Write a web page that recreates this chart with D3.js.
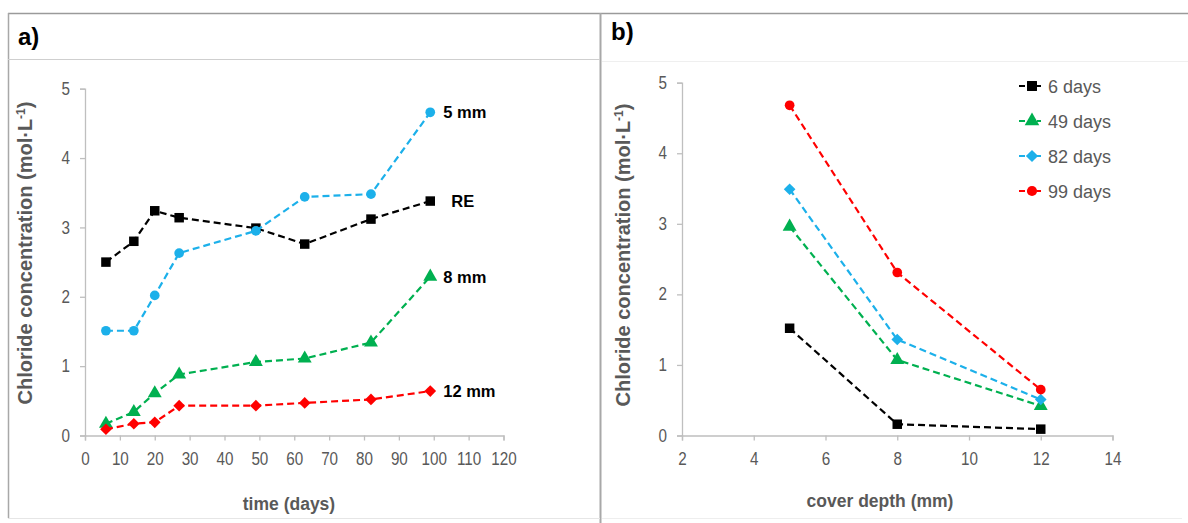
<!DOCTYPE html>
<html>
<head>
<meta charset="utf-8">
<script src="https://cdn.jsdelivr.net/npm/d3@7"></script>
<style>
  html, body { margin: 0; padding: 0; background: #fff; }
  svg { display: block; font-family: "Liberation Sans", Arial, Helvetica, sans-serif; }
</style>
</head>
<body>
<svg id="chart" width="1188" height="523"></svg>
<script>
// Panel a: chloride concentration over time at each cover depth
const days = [6, 14, 20, 27, 49, 63, 82, 99];
const conc5mm = [1.51, 1.51, 2.02, 2.63, 2.95, 3.44, 3.48, 4.66];
const concRE = [2.50, 2.80, 3.24, 3.14, 2.99, 2.76, 3.12, 3.38];
const conc8mm = [0.17, 0.34, 0.61, 0.88, 1.06, 1.11, 1.34, 2.29];
const conc12mm = [0.09, 0.17, 0.19, 0.43, 0.43, 0.47, 0.52, 0.64];
const timeTicks = [0, 10, 20, 30, 40, 50, 60, 70, 80, 90, 100, 110, 120];
const concTicks = [0, 1, 2, 3, 4, 5];

// Panel b: chloride profiles by cover depth for selected exposure times
const depths = [5, 8, 12];
const profile6d = [1.52, 0.16, 0.09];
const profile49d = [2.96, 1.07, 0.42];
const profile82d = [3.49, 1.36, 0.51];
const profile99d = [4.68, 2.31, 0.65];
const depthTicks = [2, 4, 6, 8, 10, 12, 14];

const BLACK = "#000000", GREEN = "#00b050", BLUE = "#1cb0ea", RED = "#ff0000";
const AXIS = "#bfbfbf", TEXT = "#595959";

const svg = d3.select("#chart");

// Frames around the two panels
const frame = svg.append("g");
frame.append("line").attr("x1", 8).attr("x2", 1188).attr("y1", 13.5).attr("y2", 13.5).attr("stroke", "#9a9a9a").attr("stroke-width", 1.5);
frame.append("line").attr("x1", 8.5).attr("x2", 8.5).attr("y1", 13).attr("y2", 518).attr("stroke", "#a8a8a8").attr("stroke-width", 1.5);
frame.append("line").attr("x1", 600.5).attr("x2", 600.5).attr("y1", 13).attr("y2", 523).attr("stroke", "#a8a8a8").attr("stroke-width", 2);
frame.append("line").attr("x1", 8).attr("x2", 600).attr("y1", 59.5).attr("y2", 59.5).attr("stroke", "#cfcfcf");
frame.append("line").attr("x1", 602).attr("x2", 1188).attr("y1", 61.5).attr("y2", 61.5).attr("stroke", "#efefef");
frame.append("line").attr("x1", 8).attr("x2", 600).attr("y1", 518.5).attr("y2", 518.5).attr("stroke", "#e6e6e6");
frame.append("line").attr("x1", 602).attr("x2", 1182).attr("y1", 518.5).attr("y2", 518.5).attr("stroke", "#eeeeee");

svg.append("text").attr("x", 18).attr("y", 45).attr("font-size", 24).attr("font-weight", "bold").text("a)");
svg.append("text").attr("x", 611).attr("y", 40).attr("font-size", 24).attr("font-weight", "bold").text("b)");

// Marker shapes; the diamond is a square turned 45 degrees
const markers = {
  square: { type: d3.symbolSquare, size: 90, rotate: 0 },
  circle: { type: d3.symbolCircle, size: 74, rotate: 0 },
  triangle: { type: d3.symbolTriangle, size: 84, rotate: 0 },
  diamond: { type: d3.symbolSquare, size: 68, rotate: 45 }
};
function markerPath(shape, scale = 1) {
  const m = markers[shape];
  return d3.symbol().type(m.type).size(m.size * scale)();
}

// Tick labels use a condensed face: squeeze the regular glyphs horizontally
function condense(selection, factor) {
  selection.each(function () {
    const w = this.getComputedTextLength();
    d3.select(this).attr("textLength", w * factor).attr("lengthAdjust", "spacingAndGlyphs");
  });
}

function drawPanel(cfg) {
  const g = svg.append("g");
  const x = d3.scaleLinear().domain(cfg.xDomain).range(cfg.xRange);
  const y = d3.scaleLinear().domain([0, 5]).range(cfg.yRange);

  const yAxis = g.append("g").attr("transform", `translate(${cfg.xRange[0]},0)`)
    .call(d3.axisLeft(y).tickValues(concTicks).tickFormat(d3.format("d")).tickSize(5).tickPadding(10));
  const xAxis = g.append("g").attr("transform", `translate(0,${cfg.yRange[0]})`)
    .call(d3.axisBottom(x).tickValues(cfg.xTicks).tickFormat(d3.format("d")).tickSize(5).tickPadding(12));
  [xAxis, yAxis].forEach(a => {
    a.selectAll("path, line").attr("stroke", AXIS).attr("stroke-width", 1.3);
    a.selectAll("text").attr("fill", TEXT).attr("font-size", 17.5).call(condense, 0.87);
  });

  g.append("text")
    .attr("transform", `translate(${cfg.yTitleX},${cfg.yTitleY}) rotate(-90)`)
    .attr("text-anchor", "middle").attr("font-size", 20).attr("font-weight", "bold").attr("fill", TEXT)
    .html('Chloride concentration (mol·L<tspan dy="-7" font-size="12">-1</tspan><tspan dy="7">)</tspan>');
  g.append("text")
    .attr("x", cfg.xTitleX).attr("y", cfg.xTitleY)
    .attr("text-anchor", "middle").attr("font-size", 17.5).attr("font-weight", "bold").attr("fill", TEXT)
    .text(cfg.xTitle);

  const line = d3.line().x(d => x(d[0])).y(d => y(d[1]));
  cfg.series.forEach(s => {
    const pts = cfg.xValues.map((v, i) => [v, s.values[i]]);
    g.append("path").datum(pts).attr("d", line)
      .attr("fill", "none").attr("stroke", s.color).attr("stroke-width", 2.2)
      .attr("stroke-dasharray", "7,4");
    g.selectAll(null).data(pts).enter().append("path")
      .attr("d", markerPath(s.shape))
      .attr("transform", d => `translate(${x(d[0])},${y(d[1])}) rotate(${markers[s.shape].rotate})`)
      .attr("fill", s.color);
    if (s.label) {
      const last = pts[pts.length - 1];
      g.append("text").attr("x", x(last[0]) + s.dx).attr("y", y(last[1]) + 6)
        .attr("font-size", 16.5).attr("font-weight", "bold").attr("fill", "#000").text(s.label);
    }
  });
  return { g, x, y };
}

drawPanel({
  xDomain: [0, 120], xRange: [85, 503.5], yRange: [435.5, 88.7],
  xTicks: timeTicks, xValues: days, xTitle: "time (days)", xTitleX: 289, xTitleY: 510,
  yTitleX: 32, yTitleY: 253,
  series: [
    { values: concRE, color: BLACK, shape: "square", label: "RE", dx: 21 },
    { values: conc5mm, color: BLUE, shape: "circle", label: "5 mm", dx: 13 },
    { values: conc8mm, color: GREEN, shape: "triangle", label: "8 mm", dx: 13 },
    { values: conc12mm, color: RED, shape: "diamond", label: "12 mm", dx: 13 }
  ]
});

drawPanel({
  xDomain: [2, 14], xRange: [682, 1112.5], yRange: [435.5, 82.7],
  xTicks: depthTicks, xValues: depths, xTitle: "cover depth (mm)", xTitleX: 880, xTitleY: 507,
  yTitleX: 630, yTitleY: 255,
  series: [
    { values: profile6d, color: BLACK, shape: "square" },
    { values: profile49d, color: GREEN, shape: "triangle" },
    { values: profile82d, color: BLUE, shape: "diamond" },
    { values: profile99d, color: RED, shape: "circle" }
  ]
});

// Legend for panel b
const legendItems = [
  { name: "6 days", color: BLACK, shape: "square" },
  { name: "49 days", color: GREEN, shape: "triangle" },
  { name: "82 days", color: BLUE, shape: "diamond" },
  { name: "99 days", color: RED, shape: "circle" }
];
const legend = svg.append("g").attr("transform", "translate(1019,86)");
legendItems.forEach((d, i) => {
  const row = legend.append("g").attr("transform", `translate(0,${i * 35})`);
  row.append("line").attr("x1", 0).attr("x2", 22).attr("y1", 0).attr("y2", 0)
    .attr("stroke", d.color).attr("stroke-width", 2.2).attr("stroke-dasharray", "6,3");
  row.append("path").attr("d", markerPath(d.shape, 1.1))
    .attr("transform", `translate(13,0) rotate(${markers[d.shape].rotate})`).attr("fill", d.color);
  row.append("text").attr("x", 29).attr("y", 6.5).attr("font-size", 18).attr("fill", TEXT).text(d.name);
});
</script>
</body>
</html>
